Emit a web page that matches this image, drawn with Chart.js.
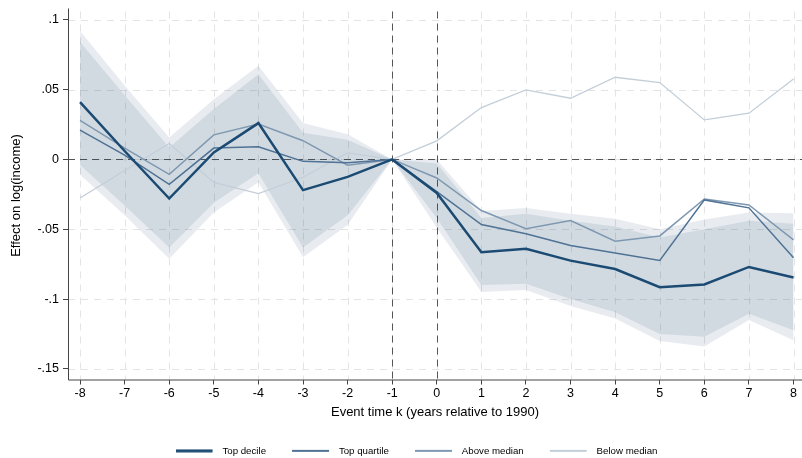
<!DOCTYPE html>
<html>
<head>
<meta charset="utf-8">
<script src="https://cdn.jsdelivr.net/npm/chart.js@4.4.1/dist/chart.umd.min.js"></script>
<style>
    html, body { margin: 0; padding: 0; background: #fff; }
    #wrap { width: 802px; height: 458px; }
</style>
</head>
<body>
<div id="wrap"><canvas id="eventChart"></canvas></div>
<script>
const eventTime = [-8, -7, -6, -5, -4, -3, -2, -1, 0, 1, 2, 3, 4, 5, 6, 7, 8];

const topDecile   = [0.041, 0.006, -0.028, 0.005, 0.026, -0.022, -0.0125, 0, -0.024, -0.0665, -0.064, -0.0725, -0.0785, -0.0915, -0.0895, -0.077, -0.0845];
const topQuartile = [0.021, 0.003, -0.0178, 0.0081, 0.0091, -0.0014, -0.0024, 0, -0.023, -0.0466, -0.0533, -0.0616, -0.0671, -0.0724, -0.029, -0.0347, -0.0704];
const aboveMedian = [0.028, 0.008, -0.0107, 0.0176, 0.0253, 0.0134, -0.0042, 0, -0.0133, -0.0366, -0.0497, -0.0438, -0.0586, -0.0548, -0.0283, -0.0326, -0.0576];
const belowMedian = [-0.0276, -0.008, 0.0114, -0.0165, -0.0245, -0.0128, 0.0047, 0, 0.0133, 0.0371, 0.0498, 0.0438, 0.0588, 0.055, 0.0283, 0.0331, 0.0576];

// confidence bands around the top decile estimate
const innerUpper = [0.084, 0.046, 0.0086, 0.036, 0.061, 0.019, 0.014, 0, -0.003, -0.042, -0.039, -0.044, -0.048, -0.056, -0.050, -0.044, -0.046];
const innerLower = [-0.004, -0.033, -0.063, -0.031, -0.010, -0.063, -0.040, 0, -0.042, -0.090, -0.089, -0.100, -0.1095, -0.125, -0.127, -0.1105, -0.1224];
const outerUpper = [0.092, 0.053, 0.0157, 0.043, 0.067, 0.026, 0.018, 0, 0.000, -0.037, -0.0348, -0.039, -0.0425, -0.050, -0.043, -0.038, -0.0386];
const outerLower = [-0.011, -0.040, -0.0712, -0.038, -0.0164, -0.070, -0.047, 0, -0.049, -0.095, -0.0935, -0.105, -0.114, -0.130, -0.134, -0.115, -0.1295];

const yTickValues = [0.1, 0.05, 0, -0.05, -0.1, -0.15];
const yTickLabels = ['.1', '.05', '0', '-.05', '-.1', '-.15'];
const refLinesX = [-1, 0];
const refLinesY = [0];

const seriesNames = ['Top decile', 'Top quartile', 'Above median', 'Below median'];
const seriesColors = ['#1b4a73', '#4f7295', '#7f98b1', '#c3ced9'];
const seriesWidths = [2.5, 1.5, 1.5, 1.3];

const FONT = "'Liberation Sans', Arial, Helvetica, sans-serif";

function pts(values) {
    return values.map((v, i) => ({ x: eventTime[i], y: v }));
}

// legend swatch: 37px line plus a bit of empty space before the text
function swatch(color, width) {
    const c = document.createElement('canvas');
    c.width = 42;
    c.height = 4;
    const g = c.getContext('2d');
    g.fillStyle = color;
    const h = Math.max(1, Math.round(width));
    g.fillRect(0, (4 - h) / 2, 37, h);
    return c;
}

const lineData = [topDecile, topQuartile, aboveMedian, belowMedian];

const datasets = lineData.map((vals, i) => ({
    label: seriesNames[i],
    data: pts(vals),
    borderColor: seriesColors[i],
    backgroundColor: seriesColors[i],
    borderWidth: seriesWidths[i],
    pointRadius: 0,
    tension: 0,
    fill: false
}));

// bands (drawn below the lines because later datasets are drawn first)
datasets.push(
    { label: 'band95u', data: pts(innerUpper), borderWidth: 0, pointRadius: 0, fill: '+1', backgroundColor: 'rgba(26,71,111,0.11)' },
    { label: 'band95l', data: pts(innerLower), borderWidth: 0, pointRadius: 0, fill: false },
    { label: 'band90u', data: pts(outerUpper), borderWidth: 0, pointRadius: 0, fill: '+1', backgroundColor: 'rgba(26,71,111,0.10)' },
    { label: 'band90l', data: pts(outerLower), borderWidth: 0, pointRadius: 0, fill: false }
);

const framePlugin = {
    id: 'framePlugin',
    beforeDatasetsDraw(chart) {
        const { ctx, chartArea: a, scales: { x, y } } = chart;
        ctx.save();
        // light dashed grid
        ctx.strokeStyle = '#e4e4e4';
        ctx.lineWidth = 1;
        ctx.setLineDash([7, 6]);
        eventTime.forEach(k => {
            const px = Math.round(x.getPixelForValue(k)) + 0.5;
            ctx.beginPath(); ctx.moveTo(px, a.top); ctx.lineTo(px, a.bottom); ctx.stroke();
        });
        yTickValues.forEach(v => {
            const py = Math.round(y.getPixelForValue(v)) + 0.5;
            ctx.beginPath(); ctx.moveTo(a.left, py); ctx.lineTo(a.right, py); ctx.stroke();
        });
        // reference lines
        ctx.strokeStyle = '#555';
        ctx.setLineDash([7, 5]);
        refLinesX.forEach(k => {
            const px = Math.round(x.getPixelForValue(k)) + 0.5;
            ctx.beginPath(); ctx.moveTo(px, a.top); ctx.lineTo(px, a.bottom); ctx.stroke();
        });
        refLinesY.forEach(v => {
            const py = Math.round(y.getPixelForValue(v)) + 0.5;
            ctx.beginPath(); ctx.moveTo(a.left, py); ctx.lineTo(a.right, py); ctx.stroke();
        });
        // axis lines
        ctx.setLineDash([]);
        ctx.strokeStyle = '#444';
        ctx.beginPath();
        ctx.moveTo(a.left + 0.5, a.top - 3);
        ctx.lineTo(a.left + 0.5, a.bottom + 0.5);
        ctx.lineTo(a.right, a.bottom + 0.5);
        ctx.stroke();
        ctx.restore();
    }
};

new Chart(document.getElementById('eventChart'), {
    type: 'line',
    data: { datasets: datasets },
    plugins: [framePlugin],
    options: {
        responsive: true,
        maintainAspectRatio: false,
        animation: false,
        layout: { padding: { top: 8, right: 0, left: 31, bottom: 0 } },
        plugins: {
            tooltip: { enabled: false },
            legend: {
                position: 'bottom',
                maxHeight: 38,
                labels: {
                    usePointStyle: true,
                    pointStyleWidth: 42,
                    padding: 26,
                    color: '#000',
                    font: { family: FONT, size: 9.7 },
                    generateLabels: chart => seriesNames.map((name, i) => ({
                        text: name,
                        datasetIndex: i,
                        pointStyle: swatch(seriesColors[i], seriesWidths[i] + 0.5),
                        strokeStyle: seriesColors[i],
                        fillStyle: seriesColors[i],
                        lineWidth: 0,
                        hidden: false
                    }))
                }
            }
        },
        scales: {
            x: {
                type: 'linear',
                min: -8.27,
                max: 8.19,
                afterBuildTicks: s => { s.ticks = eventTime.map(v => ({ value: v })); },
                afterFit: s => { s.height = 40.5; },
                grid: { drawOnChartArea: false, drawTicks: true, tickLength: 5, tickColor: '#444' },
                border: { display: false },
                ticks: { color: '#000', font: { family: FONT, size: 12.5 }, padding: 2, maxRotation: 0, autoSkip: false },
                title: { display: true, text: 'Event time k (years relative to 1990)', color: '#000', font: { family: FONT, size: 13 }, padding: { top: 0, bottom: 0 } }
            },
            y: {
                type: 'linear',
                min: -0.1576,
                max: 0.1059,
                afterBuildTicks: s => { s.ticks = yTickValues.map(v => ({ value: v })); },
                afterFit: s => { s.width = 37; },
                grid: { drawOnChartArea: false, drawTicks: true, tickLength: 5, tickColor: '#444' },
                border: { display: false },
                ticks: {
                    color: '#000',
                    font: { family: FONT, size: 12.5 },
                    padding: 4,
                    autoSkip: false,
                    callback: v => {
                        const i = yTickValues.findIndex(t => Math.abs(t - v) < 1e-9);
                        return i >= 0 ? yTickLabels[i] : '';
                    }
                },
                title: { display: true, text: 'Effect on log(income)', color: '#000', font: { family: FONT, size: 13 }, padding: { top: -22, bottom: 0 } }
            }
        }
    }
});
</script>
</body>
</html>
